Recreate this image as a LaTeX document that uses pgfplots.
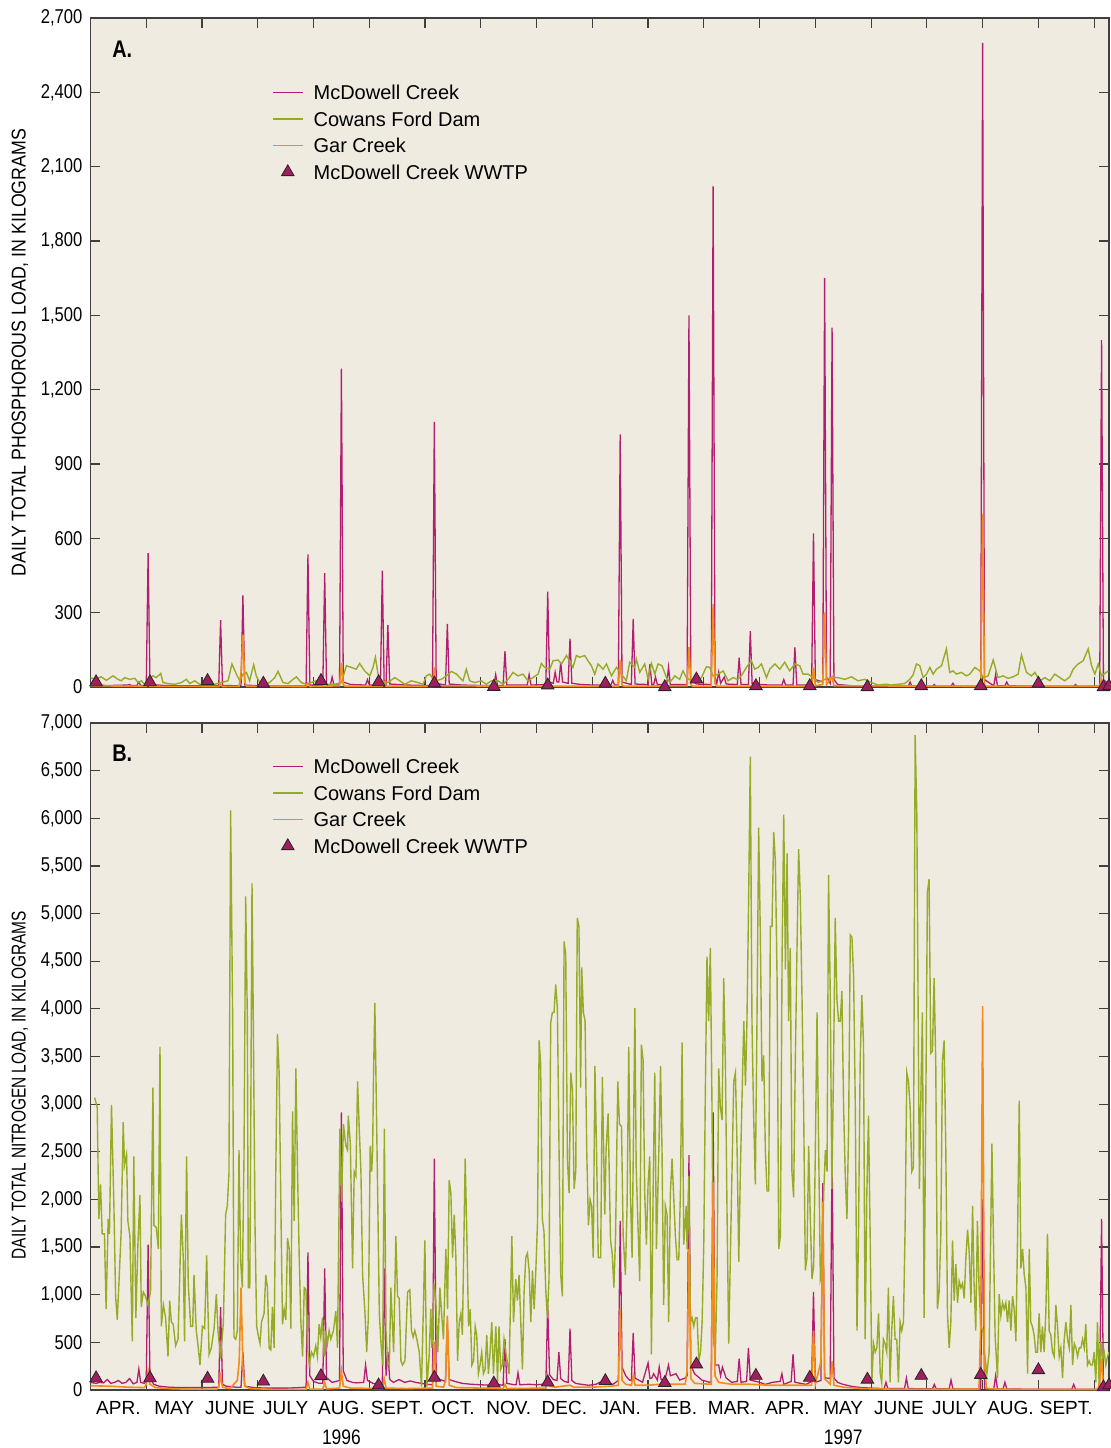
\documentclass[border=0pt]{standalone}
\usepackage{fontspec}
\setmainfont{Liberation Sans}[FakeStretch=0.83]
\newfontfamily\wide{Liberation Sans}
\usepackage{graphicx}
\usepackage{pgfplots}
\pgfplotsset{compat=1.18}
\definecolor{bg}{RGB}{239,235,225}
\definecolor{mcd}{RGB}{178,30,112}
\definecolor{cow}{RGB}{150,172,40}
\definecolor{gar}{RGB}{242,140,28}
\definecolor{wwtp}{RGB}{160,30,95}
\pgfplotsset{
  panel/.style={
    scale only axis, width=509.25pt,
    xmin=0, xmax=548,
    axis background/.style={fill=bg},
    axis line style={black!75, line width=0.6pt},
    every tick/.style={black!75, line width=0.6pt},
    major tick length=5pt, minor tick length=5pt,
    tick align=inside,
    xtick={15,45,...,525},
    minor xtick={30,60,...,540},
    major x tick style={draw=none},
    clip mode=individual,
    /pgf/number format/.cd, 1000 sep={,}, assume math mode=true,
    /pgfplots/.cd,
    yticklabel style={font=\fontsize{10}{12}\selectfont, xshift=-0.5pt},
    xticklabel style={font=\wide\fontsize{9.5}{11}\selectfont, inner sep=0pt, yshift=-5.5pt},
    legend style={draw=none, fill=none, inner sep=0pt, outer sep=0pt,
      font=\wide\fontsize{10}{12}\selectfont, row sep=4.45pt, column sep=5pt,
      nodes={inner sep=0pt, text height=7.3pt, text depth=1.5pt}},
    legend cell align=left,
    legend image code/.code={\draw[mark repeat=2,mark phase=2,##1] plot coordinates {(0pt,0.6pt) (7.5pt,0.6pt) (15pt,0.6pt)};},
    ylabel style={font=\fontsize{10.5}{12}\selectfont},
  },
  mcdl/.style={color=mcd, line width=0.65pt, no markers},
  cowl/.style={color=cow, line width=0.7pt, no markers},
  garl/.style={color=gar, line width=0.8pt, no markers},
  wwl/.style={only marks, mark=triangle*, mark size=3.6pt, mark options={fill=wwtp, draw=black!85, line width=0.4pt}},
}
\begin{document}
\begin{tikzpicture}
\path[use as bounding box] (0pt,0pt) rectangle (555.5pt,-724pt);
% ---------------- Panel A ----------------
\begin{axis}[panel, at={(45.25pt,-9pt)}, anchor=north west, height=334.5pt,
  ymin=0, ymax=2700, ytick={0,300,...,2700}, xmajorticks=false,
  ylabel={\scalebox{1.07}[1]{DAILY TOTAL PHOSPHOROUS LOAD, IN KILOGRAMS}},
  every axis y label/.style={at={(axis description cs:-0.0692,0.5)}, rotate=90, anchor=center},
  legend style={at={(0.1782,0.9000)}, anchor=north west}]
\addplot[mcdl] coordinates {(0,8)(10,6)(20,8)(21,10)(22,6)(25,6)(26,20)(27,6)(30,6)(31,540)(32,10)(40,6)(50,5)(60,5)(69,5)(70,270)(71,6)(81,5)(82,370)(83,8)(90,5)(100,4)(110,4)(116,4)(117,535)(118,8)(125,6)(126,460)(127,8)(129,6)(130,40)(131,8)(134,8)(135,1285)(136,20)(140,10)(148,8)(149,30)(150,8)(156,6)(157,470)(158,15)(159,10)(160,250)(161,12)(170,8)(180,6)(184,6)(185,1070)(186,15)(191,8)(192,255)(193,12)(200,8)(210,6)(217,6)(218,50)(219,6)(222,6)(223,145)(224,8)(230,8)(235,8)(236,50)(237,8)(245,10)(246,385)(247,20)(249,15)(250,60)(251,20)(252,20)(253,100)(254,20)(257,15)(258,195)(259,15)(264,10)(270,8)(280,8)(281,27)(282,8)(284,8)(285,1020)(286,20)(291,10)(292,275)(293,12)(300,10)(301,93)(302,10)(303,10)(304,40)(305,10)(310,10)(311,80)(312,10)(321,10)(322,1500)(323,30)(326,12)(334,10)(335,2020)(336,40)(337,15)(338,60)(339,15)(341,40)(342,12)(348,10)(349,118)(350,10)(354,10)(355,225)(356,12)(365,8)(372,8)(373,30)(374,8)(378,8)(379,160)(380,8)(388,8)(389,620)(390,30)(394,20)(395,1650)(396,40)(398,15)(399,1450)(400,30)(402,10)(410,5)(420,3)(428,3)(429,10)(430,3)(440,3)(441,20)(442,3)(453,3)(454,10)(455,3)(463,3)(464,15)(465,3)(479,3)(480,2600)(481,30)(486,5)(487,50)(488,5)(492,5)(493,20)(494,5)(510,3)(529,3)(530,10)(531,3)(543,3)(544,1400)(545,30)(548,10)};
\addlegendentry{McDowell Creek}
\addplot[cowl] coordinates {(0,38)(2.2,31)(5.8,41)(8.5,27)(12.1,45)(14.8,31)(16.6,25)(18.4,38)(21.1,31)(23.8,35)(25.6,18)(27.4,25)(29.1,11)(30.9,31)(33.6,45)(35.4,38)(37.8,55)(39,18)(41.7,14)(45.3,11)(48.9,18)(51.6,31)(53.4,14)(56.1,25)(58.7,11)(60.5,14)(63.2,14)(66.8,11)(70.4,18)(74,25)(76.1,93)(78.5,52)(80.3,25)(82.1,52)(83.9,59)(85.6,25)(87.8,90)(89.2,45)(91,18)(93.7,11)(96.4,18)(99.1,38)(100.9,63)(103.6,18)(106.3,14)(109,31)(110.8,41)(113.4,18)(116.1,11)(118.8,18)(121.5,25)(124.2,18)(127.8,11)(131.4,11)(135,18)(137.7,86)(140.4,79)(143,72)(144.8,95)(147.5,65)(150.2,45)(152,79)(153.3,120)(154.7,52)(156.5,25)(160.1,18)(163.7,38)(166.4,25)(169.1,11)(172.6,25)(176.2,18)(178.9,11)(180.7,45)(182.5,52)(185.2,25)(188.8,31)(191.5,45)(194.2,63)(196.9,52)(198.7,38)(200.4,25)(202.2,72)(204,25)(206.7,18)(210.3,25)(213,11)(215.7,25)(219.3,25)(222,11)(224.7,31)(227.3,59)(230,45)(232.7,52)(235.4,25)(238.1,38)(240.8,52)(242.6,95)(244.4,79)(247.1,72)(248.9,106)(251.6,109)(253.4,93)(256.1,127)(257.8,106)(259.6,79)(261.4,127)(263.2,120)(265.9,127)(267.7,106)(269.5,86)(271.3,52)(273.1,93)(275.8,72)(277.6,93)(280.3,45)(283,79)(285.7,52)(288.3,25)(290.1,100)(292.8,79)(293.7,113)(295.5,59)(298.2,93)(300,31)(301.8,95)(303.6,52)(305.4,93)(307.5,86)(309.9,38)(311.7,18)(314.4,45)(317,31)(318.8,65)(320.6,38)(323.3,25)(326,18)(328.7,38)(331.4,82)(333.2,79)(335,45)(337.7,52)(340.4,65)(343.1,25)(345.7,38)(348.1,31)(350.2,45)(352.9,79)(355.6,106)(357.4,72)(359.2,79)(361,93)(363.7,38)(365.5,72)(368.2,93)(370.9,72)(373.5,100)(376.2,65)(378.9,93)(381.6,86)(383.4,52)(386.1,52)(388.8,38)(391.5,18)(395.1,31)(398.7,38)(402.2,38)(405.8,31)(409.4,41)(413,25)(416.6,31)(420.2,18)(423.8,8)(427.4,11)(430.9,8)(434.5,11)(438.1,14)(440.8,31)(442.6,49)(444.4,93)(446.2,86)(448,38)(449.8,52)(451.6,79)(453.4,52)(455.2,72)(457.9,86)(460.5,154)(462.3,59)(464.1,65)(465.9,52)(468.6,59)(471.3,45)(473.1,52)(475.8,79)(478.5,65)(480.3,38)(483,45)(485.7,109)(488.3,38)(491,45)(493.7,35)(496.4,41)(499.1,52)(500.9,129)(503.6,59)(506.3,45)(508.1,59)(510.8,25)(513.5,38)(516.2,25)(518.8,52)(521.5,38)(524.2,25)(526.9,41)(528.7,72)(531.4,93)(534.1,106)(536.8,154)(538.6,86)(540.4,52)(542.2,93)(544,45)(547.6,65)};
\addlegendentry{Cowans Ford Dam}
\addplot[garl] coordinates {(0,5)(30,3)(31,20)(32,3)(69,2)(70,10)(71,2)(80,3)(81,60)(82,211)(83,20)(84,3)(116,2)(117,15)(118,2)(134,5)(135,97)(136,10)(137,3)(157,3)(158,20)(159,3)(184,3)(185,79)(186,5)(245,3)(246,15)(247,3)(284,3)(285,109)(286,8)(287,3)(321,5)(322,161)(323,10)(324,3)(334,3)(335,334)(336,15)(337,3)(388,3)(389,79)(390,5)(394,10)(395,301)(396,10)(399,40)(400,5)(479,3)(480,699)(481,10)(482,3)(543,3)(544,30)(545,3)(548,3)};
\addlegendentry{Gar Creek}
\addplot[wwl] coordinates {(3,20)(32,20)(63,25)(93,14)(124,25)(155,20)(185,15)(217,1)(246,7)(277,14)(309,0)(326,31)(358,4)(387,4)(418,0)(447,4)(479,4)(510,14)(545,0)(548,4)};
\addlegendentry{McDowell Creek WWTP}
\node[anchor=west, inner sep=0pt, font=\bfseries\fontsize{12}{12}\selectfont] at (rel axis cs:0.021,0.954) {A.};
\end{axis}
% ---------------- Panel B ----------------
\begin{axis}[panel, at={(45.25pt,-361.5pt)}, anchor=north west, height=333.5pt,
  ymin=0, ymax=7000, ytick={0,500,...,7000},
  xticklabels={APR.,MAY,JUNE,JULY,AUG.,SEPT.,OCT.,NOV.,DEC.,JAN.,FEB.,MAR.,APR.,MAY,JUNE,JULY,AUG.,SEPT.},
  ylabel={\scalebox{0.93}[1]{DAILY TOTAL NITROGEN LOAD, IN KILOGRAMS}},
  every axis y label/.style={at={(axis description cs:-0.0692,0.457)}, rotate=90, anchor=center},
  legend style={at={(0.1782,0.9462)}, anchor=north west}]
\addplot[mcdl] coordinates {(0,80)(3,70)(5,80)(7,75)(9,110)(11,70)(13,80)(15,100)(17,70)(19,80)(21,120)(23,65)(25,80)(26,220)(27,80)(29,70)(30,90)(31,1525)(32,130)(34,60)(37,40)(42,30)(48,25)(55,25)(62,25)(69,30)(70,870)(71,60)(73,40)(78,30)(81,30)(82,400)(83,40)(88,25)(95,20)(100,20)(106,20)(112,25)(116,30)(117,1444)(118,150)(120,90)(123,70)(125,70)(126,1277)(127,130)(130,80)(134,100)(135,2915)(136,200)(138,100)(141,80)(143,75)(147,80)(148,262)(149,100)(152,70)(155,60)(157,70)(158,1277)(159,150)(160,400)(161,110)(163,80)(166,110)(169,80)(172,95)(175,80)(178,70)(181,60)(184,55)(185,2428)(186,160)(188,110)(191,90)(192,700)(193,110)(196,90)(200,70)(205,60)(210,55)(215,50)(218,60)(222,50)(223,533)(224,70)(228,55)(229,55)(230,180)(231,55)(236,60)(240,55)(243,60)(245,70)(246,894)(247,160)(249,110)(251,100)(252,397)(253,120)(255,90)(257,80)(258,645)(259,100)(261,70)(264,60)(268,50)(272,60)(274,81)(278,90)(281,59)(284,100)(285,1774)(286,239)(288,149)(290,104)(291,100)(292,600)(293,126)(297,81)(300,284)(301,120)(302,126)(303,171)(305,104)(306,240)(307,110)(309,104)(311,262)(312,149)(315,171)(317,104)(320,126)(321,150)(322,2464)(323,262)(325,171)(329,104)(333,81)(334,90)(335,2915)(336,262)(338,262)(339,149)(340,240)(342,126)(345,81)(348,90)(349,330)(350,81)(353,90)(354,442)(355,104)(360,81)(363,59)(367,81)(371,90)(372,171)(373,59)(377,90)(378,375)(379,81)(385,59)(388,90)(389,1029)(390,81)(393,100)(394,2170)(395,126)(396,126)(398,120)(399,2541)(400,126)(402,80)(405,59)(410,36)(415,25)(420,20)(427,15)(428,81)(429,15)(438,15)(439,126)(440,15)(453,12)(454,59)(455,12)(462,12)(463,104)(464,12)(470,10)(479,10)(480,2000)(481,20)(486,10)(487,149)(488,10)(491,10)(492,81)(493,10)(510,8)(528,8)(529,59)(530,8)(543,8)(544,1796)(545,50)(548,20)};
\addlegendentry{McDowell Creek}
\addplot[cowl] coordinates {(2.2,3070)(3.6,2970)(4.5,1796)(5.4,2157)(6.3,1638)(7.5,1638)(8.4,848)(9.5,1796)(10.2,1638)(11.3,2992)(12.6,1932)(13.5,984)(14.4,736)(15.6,1255)(16.5,1661)(17.6,2812)(18.3,2360)(19.4,2473)(20.1,1774)(21.2,1616)(22.5,510)(23.3,2451)(24.4,758)(25.5,1525)(26.6,2044)(27.3,871)(28.4,1029)(29.6,984)(30.9,894)(32.3,1029)(33.6,3173)(34.1,1728)(35.4,1706)(36.5,1480)(37.4,3601)(38.1,668)(39.2,894)(40.4,758)(41.7,352)(42.6,939)(43.5,713)(44.5,690)(45.8,465)(47.1,533)(48.9,1841)(49.9,1390)(50.6,510)(51.7,2451)(52.6,1119)(53.9,668)(55,668)(55.7,1209)(56.9,623)(58,442)(58.9,262)(60.2,668)(61.4,645)(62.5,1413)(63.8,375)(65,442)(66.5,645)(67.7,1006)(68.6,623)(70,329)(71.5,713)(72.7,1841)(73.6,1932)(74.5,2270)(75.4,6083)(76.5,3872)(77.2,555)(78.1,533)(79,623)(79.9,2518)(80.8,1345)(81.7,1074)(82.6,2473)(83.5,5181)(84.4,3872)(84.9,1074)(85.7,1074)(86.2,2699)(86.9,5316)(87.6,3872)(88.5,1751)(89.4,668)(90.2,578)(91.2,487)(92,713)(93.4,803)(94.3,1209)(95.2,1074)(96.1,442)(97,420)(97.9,871)(98.8,442)(99.7,2293)(100.6,3737)(101.5,3331)(102.4,1977)(103.3,690)(104.2,848)(105.1,736)(106,1593)(106.9,1480)(107.8,645)(108.7,2924)(109.6,1774)(110.5,3376)(111.4,2293)(112.3,1390)(113.2,713)(114.1,352)(115,1074)(115.9,1052)(116.8,442)(117.7,262)(118.9,397)(120,352)(121.2,465)(122.1,352)(123,690)(123.9,555)(124.8,758)(125.7,352)(126.6,623)(127.5,487)(128.4,623)(129.3,533)(130.7,623)(132,826)(132.9,442)(134.2,2744)(135.1,1977)(136.1,2789)(137.4,2563)(138.3,2518)(138.7,2879)(139.8,2586)(141,1277)(141.9,2293)(142.8,2247)(143.7,3240)(144.6,2744)(145.5,2293)(146.4,1209)(147.7,803)(148.6,397)(149.5,758)(150.5,2563)(151.3,2293)(151.8,2518)(152.3,3331)(153,4062)(153.8,3015)(154.5,2067)(155.4,803)(156.3,487)(157.2,262)(158.1,2744)(159,623)(159.9,262)(160.8,262)(161.6,1074)(163.1,397)(164.3,1616)(165.2,984)(166.1,961)(167,307)(167.9,262)(169.2,307)(170.6,1029)(171.8,1052)(172.7,623)(173.6,555)(174.5,623)(175.6,533)(176.9,397)(178.1,36)(179.2,939)(179.9,1570)(181,36)(182.2,352)(183.1,848)(183.7,442)(184.9,1119)(185.8,939)(186.9,397)(188,1074)(188.9,803)(189.9,533)(191.2,1480)(192.1,848)(193,2202)(193.9,2067)(194.8,1390)(195.7,1841)(196.6,1390)(197.5,307)(198.4,713)(199.3,803)(200.1,578)(201.6,2428)(202.5,1616)(203.4,668)(204.3,848)(205.2,262)(206.1,307)(207,668)(207.8,578)(208.7,171)(209.6,262)(210.5,397)(211.4,171)(212.3,217)(213.2,578)(214.1,171)(215,397)(215.9,713)(216.8,171)(218.1,668)(219,81)(219.8,668)(220.7,217)(221.6,262)(222.5,533)(223.8,352)(225.2,171)(226.7,1616)(227.6,713)(228.8,1164)(229.7,939)(230.6,1209)(231.5,713)(232.4,217)(233.3,1029)(234.2,1390)(235.1,1435)(236,1255)(236.9,713)(237.8,1255)(238.7,848)(239.6,1255)(240.5,1751)(241.4,3669)(242.2,3421)(243.1,1796)(244,1661)(244.9,1074)(245.8,758)(246.7,1164)(247.6,3850)(248.5,3962)(249.4,3962)(250.3,4256)(251.2,4008)(252.1,2518)(253,1209)(253.9,984)(254.8,4707)(255.7,4572)(256.6,2428)(257.5,2067)(258.4,3331)(259.3,3150)(260.2,2112)(261.1,2293)(261.9,4955)(262.8,4865)(263.7,3173)(264.3,4436)(265.2,3962)(266.1,3872)(267,2518)(267.9,1728)(268.8,1999)(269.6,1932)(270.5,1390)(271.4,3398)(272.3,2473)(273.2,1390)(274.5,1390)(275.4,3285)(276.7,1841)(277.4,2518)(278.5,2902)(279.8,1570)(280.7,1435)(281.6,1074)(282.5,1616)(283.7,3240)(284.6,2789)(285.7,2767)(286.6,1616)(287.8,1209)(288.7,1932)(289.6,3601)(290.5,2067)(291.4,1390)(292.3,2924)(292.9,4008)(293.6,2338)(294.6,1706)(295.5,1142)(296.4,3624)(297.3,3466)(298.2,2067)(299.1,1525)(300,2157)(300.9,2451)(301.8,375)(302.7,2067)(303.6,3331)(304.5,1480)(305.8,2518)(306.7,3398)(307.5,2518)(308.4,894)(309.3,1932)(310.2,1841)(311.1,713)(312,2067)(312.9,2428)(313.8,2022)(314.7,1616)(315.6,1367)(316.5,1367)(317.4,2067)(318.3,3647)(319.2,1525)(320.5,1932)(321,1480)(321.9,2247)(322.8,713)(323.7,758)(324.6,668)(325.5,758)(326.4,758)(327.3,307)(328.2,397)(329.1,713)(330,1570)(330.8,3105)(331.7,4549)(332.6,3872)(333.5,4639)(334.4,2970)(335.3,487)(336.2,397)(337.1,1164)(338,3376)(338.9,2970)(339.8,2834)(340.7,4323)(341.6,3421)(342.5,1841)(343.4,487)(344.3,1435)(345.2,2338)(346.1,3240)(347,3331)(347.9,2518)(348.8,1345)(349.7,2338)(350.6,3105)(351.5,3872)(352.4,3195)(353.2,3872)(354.1,5136)(355,6648)(355.9,3872)(356.8,2879)(357.7,2157)(358.6,3872)(359.5,5903)(360.4,4775)(361.3,3240)(362.2,3511)(363.1,2518)(364,2090)(364.9,2090)(365.8,4865)(366.7,4865)(367.6,5858)(368.5,5542)(369.4,4323)(370.3,1480)(371.2,1616)(372.1,4549)(373,6038)(373.9,4414)(374.8,5632)(375.6,3872)(376.5,4639)(377.4,2293)(378.3,2022)(379.2,3421)(380.1,4594)(381,5677)(381.9,5181)(382.8,4143)(383.7,2970)(384.6,1255)(385.5,1390)(386.4,2563)(387.3,1796)(388.2,1164)(389.1,1300)(390,2518)(390.9,3962)(391.8,2518)(392.7,1164)(393.6,1255)(394.5,2067)(395.4,2518)(396.3,2293)(397.1,5407)(398,4188)(398.9,2112)(399.8,3421)(400.7,4955)(401.6,4098)(402.5,3872)(403.4,3872)(404.3,4188)(405.2,2970)(406.1,2247)(407,1796)(407.9,2744)(408.8,4775)(409.7,4752)(410.6,4323)(411.5,2970)(412.4,623)(413.2,1616)(414.1,3421)(415,4143)(415.9,3647)(416.8,533)(417.7,2067)(418.6,2879)(419.5,1616)(420.4,81)(421.3,487)(422.2,397)(423.1,442)(424,803)(424.9,171)(425.7,81)(426.6,533)(427.5,487)(428.4,397)(429.3,1074)(430.2,81)(431.1,623)(432,984)(432.9,533)(433.8,533)(434.7,81)(435.6,713)(436.5,623)(437.4,713)(438.3,1706)(439.2,3331)(440.1,3240)(441,2970)(441.9,2293)(442.8,2338)(443.7,6873)(444.6,6038)(445.5,3421)(446,2112)(446.9,3240)(447.6,3962)(448.5,758)(449.6,3421)(450.3,5226)(451.2,5361)(452.1,3534)(453,3556)(453.9,4323)(454.8,3421)(455.7,848)(456.6,1029)(457.5,1616)(458.4,3466)(459.3,3669)(460.2,2518)(461.1,803)(462,442)(462.9,713)(463.8,1570)(464.7,939)(465.6,1322)(466.5,916)(467.4,1142)(468.3,1074)(469.2,1119)(470.1,961)(471,1390)(471.9,1683)(472.8,1435)(473.7,916)(474.6,1932)(475.4,1119)(476.3,623)(477.2,1774)(478.1,1074)(479,668)(480.1,623)(481,397)(482.3,171)(483.5,397)(485,2586)(485.8,1616)(486.7,578)(488,126)(488.9,1006)(489.8,781)(490.7,916)(491.6,848)(492.5,916)(493.4,713)(494.3,939)(495.2,623)(496.1,984)(497,848)(497.9,510)(498.8,1616)(499.7,3037)(500.6,1277)(501.5,1480)(502.4,1209)(503.3,1074)(504.2,171)(505.1,1480)(505.9,713)(506.8,668)(507.7,578)(508.6,397)(509.5,397)(510.4,803)(511.3,397)(512.2,668)(513.1,397)(514,803)(514.9,1638)(515.8,623)(516.7,578)(517.6,397)(518.5,352)(519.4,894)(520.3,668)(521.2,352)(522.1,442)(523,126)(523.9,533)(524.8,713)(525.7,533)(526.6,442)(527.5,894)(528.4,262)(529.3,487)(530.2,442)(531.1,352)(532,442)(532.9,442)(533.8,533)(534.7,442)(535.5,690)(536.4,262)(537.3,307)(538.2,262)(539.1,262)(540,397)(540.9,81)(541.8,713)(542.7,36)(543.6,510)(544.5,307)(545.4,397)(546.3,262)(547.2,352)(548,397)};
\addlegendentry{Cowans Ford Dam}
\addplot[garl] coordinates {(0,45)(10,40)(20,30)(29,25)(30,60)(31,200)(32,60)(35,25)(45,12)(60,8)(68,10)(69,40)(70,150)(71,30)(75,15)(79,100)(80,300)(81,1074)(82,250)(83,40)(86,15)(100,6)(116,6)(117,80)(118,10)(125,10)(126,80)(127,12)(134,20)(135,200)(136,40)(140,20)(157,15)(158,120)(159,20)(170,15)(184,20)(185,510)(186,40)(190,30)(191,100)(192,780)(193,50)(197,25)(210,20)(222,15)(223,60)(224,15)(245,20)(246,150)(247,40)(250,30)(258,50)(260,30)(270,30)(280,40)(284,50)(285,848)(286,100)(288,60)(291,50)(292,150)(293,50)(300,50)(306,60)(311,60)(320,60)(321,200)(322,1480)(323,120)(325,70)(334,60)(335,2180)(336,150)(338,80)(345,60)(355,60)(365,50)(378,50)(388,50)(389,623)(390,60)(393,300)(394,1977)(395,120)(398,60)(399,300)(400,50)(405,30)(415,15)(430,10)(460,8)(478,8)(479,690)(480,4030)(481,300)(482,15)(490,8)(520,5)(542,5)(543,100)(544,330)(545,40)(548,20)};
\addlegendentry{Gar Creek}
\addplot[wwl] coordinates {(3,125)(32,125)(63,120)(93,90)(124,147)(155,50)(185,130)(217,70)(246,80)(277,95)(309,75)(326,270)(358,150)(387,130)(418,110)(447,150)(479,160)(510,210)(545,30)(548,50)};
\addlegendentry{McDowell Creek WWTP}
\node[anchor=west, inner sep=0pt, font=\bfseries\fontsize{12}{12}\selectfont] at (rel axis cs:0.021,0.954) {B.};
\node[anchor=north, inner sep=0pt, font=\fontsize{10.5}{11}\selectfont, yshift=-19.5pt] at (axis cs:135,0) {1996};
\node[anchor=north, inner sep=0pt, font=\fontsize{10.5}{11}\selectfont, yshift=-19.5pt] at (axis cs:405,0) {1997};
\end{axis}
\end{tikzpicture}
\end{document}
